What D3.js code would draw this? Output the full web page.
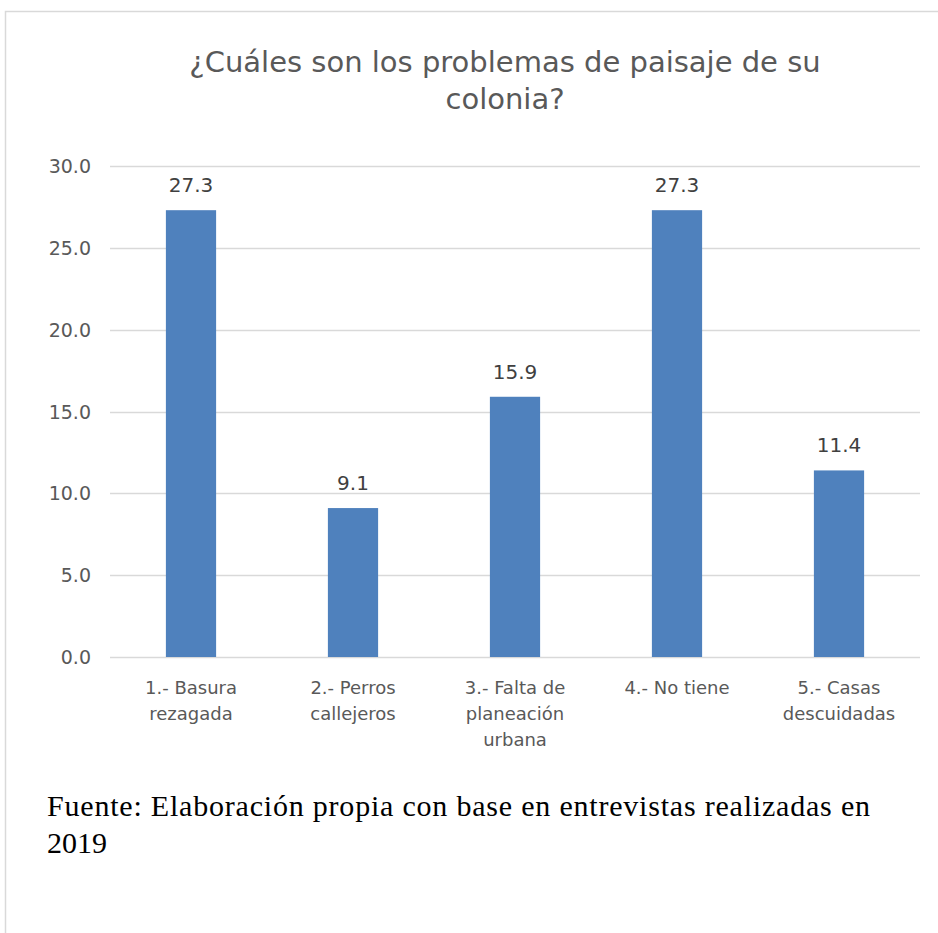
<!DOCTYPE html>
<html>
<head>
<meta charset="utf-8">
<script src="https://cdn.jsdelivr.net/npm/d3@7"></script>
<style>
    body { margin: 0; background: #fff; }
    svg text { font-family: "DejaVu Sans", sans-serif; }
</style>
</head>
<body>
<div id="chart"></div>
<script>
/*global d3*/
var categories = [
    ["1.- Basura", "rezagada"],
    ["2.- Perros", "callejeros"],
    ["3.- Falta de", "planeación", "urbana"],
    ["4.- No tiene"],
    ["5.- Casas", "descuidadas"]
];
var values = [27.3, 9.1, 15.9, 27.3, 11.4];
var yTicks = [0, 5, 10, 15, 20, 25, 30];
var titleLines = ["¿Cuáles son los problemas de paisaje de su", "colonia?"];
var sourceLines = ["Fuente: Elaboración propia con base en entrevistas realizadas en", "2019"];

(function () {
    "use strict";
    var width = 938,
        height = 933,
        plot = {left: 110, right: 920, top: 166, bottom: 657},
        svg,
        xScale,
        yScale,
        keys = categories.map(function (c, i) { return i; });

    svg = d3.select("#chart").append("svg")
        .attr("width", width)
        .attr("height", height);

    // outer frame of the chart object
    svg.append("rect")
        .attr("x", 5.5)
        .attr("y", 11.5)
        .attr("width", 1200)
        .attr("height", 1200)
        .attr("fill", "#fff")
        .attr("stroke", "#d9d9d9")
        .attr("stroke-width", 1.5);

    xScale = d3.scaleBand()
        .domain(keys)
        .range([plot.left, plot.right])
        .paddingInner(0.69)
        .paddingOuter(0.345);

    yScale = d3.scaleLinear()
        .domain([0, 30])
        .range([plot.bottom, plot.top]);

    // title
    svg.append("text")
        .attr("text-anchor", "middle")
        .attr("fill", "#595959")
        .style("font-size", "29px")
        .selectAll("tspan")
        .data(titleLines)
        .enter().append("tspan")
        .attr("x", 505)
        .attr("y", function (d, i) { return 72 + i * 37; })
        .text(function (d) { return d; });

    // gridlines
    svg.append("g")
        .selectAll("line")
        .data(yTicks)
        .enter().append("line")
        .attr("x1", plot.left)
        .attr("x2", plot.right)
        .attr("y1", function (d) { return Math.round(yScale(d)) + 0.5; })
        .attr("y2", function (d) { return Math.round(yScale(d)) + 0.5; })
        .attr("stroke", "#d9d9d9")
        .attr("stroke-width", 1.5);

    // y tick labels
    svg.append("g")
        .selectAll("text")
        .data(yTicks)
        .enter().append("text")
        .attr("x", 91)
        .attr("y", function (d) { return yScale(d) + 7; })
        .attr("text-anchor", "end")
        .attr("fill", "#595959")
        .style("font-size", "19px")
        .text(function (d) { return d3.format(".1f")(d); });

    // bars
    svg.append("g")
        .selectAll("rect")
        .data(values)
        .enter().append("rect")
        .attr("x", function (d, i) { return xScale(i); })
        .attr("y", function (d) { return yScale(d); })
        .attr("width", xScale.bandwidth())
        .attr("height", function (d) { return yScale(0) - yScale(d); })
        .attr("fill", "#4f81bd");

    // value labels
    svg.append("g")
        .selectAll("text")
        .data(values)
        .enter().append("text")
        .attr("x", function (d, i) { return xScale(i) + xScale.bandwidth() / 2; })
        .attr("y", function (d) { return yScale(d) - 18; })
        .attr("text-anchor", "middle")
        .attr("fill", "#404040")
        .style("font-size", "20px")
        .text(function (d) { return d3.format(".1f")(d); });

    // category labels
    svg.append("g")
        .selectAll("text")
        .data(categories)
        .enter().append("text")
        .attr("text-anchor", "middle")
        .attr("fill", "#595959")
        .style("font-size", "18px")
        .each(function (lines, i) {
            var cx = xScale(i) + xScale.bandwidth() / 2;
            d3.select(this).selectAll("tspan")
                .data(lines)
                .enter().append("tspan")
                .attr("x", cx)
                .attr("y", function (d, j) { return 694 + j * 26; })
                .text(function (d) { return d; });
        });

    // source note
    svg.append("g")
        .selectAll("text")
        .data(sourceLines)
        .enter().append("text")
        .attr("x", 47)
        .attr("y", function (d, i) { return 816 + i * 37; })
        .attr("fill", "#000")
        .style("font-family", "'Liberation Serif', 'Times New Roman', serif")
        .style("font-size", "30px")
        .each(function (d, i) {
            if (i === 0) {
                d3.select(this)
                    .attr("textLength", 823)
                    .attr("lengthAdjust", "spacing");
            }
        })
        .text(function (d) { return d; });
}());
</script>
</body>
</html>
